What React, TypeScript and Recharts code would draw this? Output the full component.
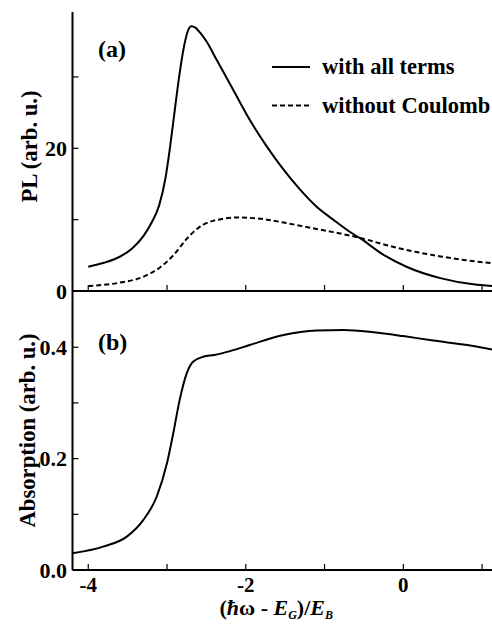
import React from 'react';
import { LineChart, Line, XAxis, YAxis, Legend, Label } from 'recharts';

const FONT = '"Liberation Serif", "Times New Roman", Times, serif';

// shared x axis
const xDomain: [number, number] = [-4.2, 1.126];
const xTicks = [-4, -3, -2, -1, 0, 1];
const xTickLabels = ['-4', '', '-2', '', '0', ''];

// panel (a): PL
const plDomain: [number, number] = [0, 39.1];
const plTicks = [0, 10, 20, 30];
const plTickLabels = ['0', '', '20', ''];

const plAllX = [-4.0, -3.8, -3.6, -3.45, -3.3, -3.2, -3.1, -3.02, -2.96, -2.9, -2.84, -2.78, -2.74, -2.69, -2.64, -2.58, -2.5, -2.37, -2.16, -1.95, -1.73, -1.52, -1.31, -1.1, -0.89, -0.68, -0.55, -0.25, 0.04, 0.47, 0.89, 1.13];
const plAllY = [3.4, 3.95, 4.8, 5.9, 7.7, 9.5, 12.0, 15.8, 20.3, 25.5, 30.5, 34.5, 36.3, 37.1, 36.9, 36.2, 35.0, 32.4, 28.2, 24.0, 20.2, 17.0, 14.2, 11.8, 10.0, 8.3, 7.4, 5.05, 3.4, 1.8, 0.93, 0.7];

const plNoCX = [-4.0, -3.6, -3.3, -3.09, -2.92, -2.75, -2.62, -2.5, -2.3, -2.1, -1.95, -1.73, -1.5, -1.31, -1.1, -0.89, -0.55, -0.17, 0.15, 0.47, 0.8, 1.13];
const plNoCY = [0.7, 1.17, 2.0, 3.3, 5.0, 7.3, 8.7, 9.5, 10.1, 10.3, 10.25, 10.0, 9.55, 9.15, 8.7, 8.25, 7.45, 6.3, 5.5, 4.85, 4.3, 3.9];

// panel (b): absorption
const absDomain: [number, number] = [0, 0.501];
const absTicks = [0, 0.1, 0.2, 0.3, 0.4];
const absTickLabels = ['0.0', '', '0.2', '', '0.4'];

const absX = [-4.2, -3.81, -3.51, -3.3, -3.13, -3.0, -2.92, -2.84, -2.75, -2.67, -2.54, -2.4, -2.2, -1.95, -1.52, -1.1, -0.76, -0.38, 0, 0.38, 0.81, 1.13];
const absY = [0.03, 0.042, 0.06, 0.09, 0.132, 0.192, 0.246, 0.305, 0.353, 0.374, 0.383, 0.386, 0.393, 0.404, 0.422, 0.43, 0.431, 0.427, 0.42, 0.412, 0.404, 0.396];

const zip = (xs: number[], ys: number[]) => xs.map((x, i) => ({ x, y: ys[i] }));
const plAllData = zip(plAllX, plAllY);
const plNoCData = zip(plNoCX, plNoCY);
const absData = zip(absX, absY);

const findLabel = (ticks: number[], labels: string[], v: number) => {
  const i = ticks.findIndex((t) => Math.abs(t - v) < 1e-9);
  return i >= 0 ? labels[i] : '';
};

const textStyle = { fontFamily: FONT, fontWeight: 700 as const, fill: '#000' };

const makeBottomTick = (showLabels: boolean) => (props: any) => {
  const { x, y, payload } = props;
  const label = showLabels ? findLabel(xTicks, xTickLabels, payload.value) : '';
  return (
    <g>
      <line x1={x} x2={x} y1={y} y2={y - 6} stroke="#000" strokeWidth={1.2} />
      {label ? (
        <text x={x} y={y + 22} textAnchor="middle" fontSize={21} fontFamily={FONT} style={textStyle}>
          {label}
        </text>
      ) : null}
    </g>
  );
};

const topTick = (props: any) => {
  const { x, y } = props;
  return <line x1={x} x2={x} y1={y} y2={y + 6} stroke="#000" strokeWidth={1.2} />;
};

const makeLeftTick = (ticks: number[], labels: string[]) => (props: any) => {
  const { x, y, payload } = props;
  const label = findLabel(ticks, labels, payload.value);
  return (
    <g>
      <line x1={x} x2={x + 6} y1={y} y2={y} stroke="#000" strokeWidth={1.2} />
      {label ? (
        <text x={x - 5.5} y={y + 7.5} textAnchor="end" fontSize={22} fontFamily={FONT} style={textStyle}>
          {label}
        </text>
      ) : null}
    </g>
  );
};

const makeYLabel = (text: string, baselineX: number, dyCenter: number) => (props: any) => {
  const vb = props.viewBox || { x: 0, y: 0, width: 0, height: 0 };
  const px = baselineX;
  const py = vb.y + vb.height / 2 + dyCenter;
  return (
    <text
      x={px}
      y={py}
      transform={`rotate(-90 ${px} ${py})`}
      textAnchor="middle"
      fontSize={22.7}
      fontFamily={FONT}
      style={textStyle}
    >
      {text}
    </text>
  );
};

const xLabel = (props: any) => {
  const vb = props.viewBox || { x: 0, y: 0, width: 0, height: 0 };
  const cx = vb.x + vb.width / 2 - 6;
  const by = vb.y + 45;
  return (
    <text x={cx} y={by} textAnchor="middle" fontSize={22} fontFamily={FONT} style={textStyle}>
      <tspan>(</tspan>
      <tspan fontStyle="italic">ħ</tspan>
      <tspan>ω - </tspan>
      <tspan fontStyle="italic">E</tspan>
      <tspan fontStyle="italic" fontSize={12} dy={4}>G</tspan>
      <tspan dy={-4}>)/</tspan>
      <tspan fontStyle="italic">E</tspan>
      <tspan fontStyle="italic" fontSize={12} dy={4}>B</tspan>
    </text>
  );
};

const renderLegend = (props: any) => {
  const payload = props.payload || [];
  return (
    <svg width={230} height={80} style={{ display: 'block', overflow: 'visible' }}>
      {payload.map((e: any, i: number) => {
        const ly = 10 + i * 38.5;
        const dash = e.payload?.strokeDasharray || (i === 1 ? '5 3' : undefined);
        return (
          <g key={i}>
            <line x1={0} x2={38} y1={ly} y2={ly} stroke="#000" strokeWidth={2} strokeDasharray={dash} />
            <text x={50} y={ly + 7.2} fontSize={22.5} fontFamily={FONT} style={textStyle}>
              {e.value}
            </text>
          </g>
        );
      })}
    </svg>
  );
};

const axisLineStyle = { stroke: '#000', strokeWidth: 2 };

export default function App() {
  return (
    <div style={{ position: 'absolute', left: 0, top: 0, width: 492, height: 627, background: '#fff', overflow: 'hidden' }}>
      <div style={{ position: 'absolute', left: 0, top: 0 }}>
        <LineChart width={492} height={320} margin={{ top: 12, right: 0, bottom: 0, left: 0 }}>
          <XAxis
            xAxisId="b"
            type="number"
            dataKey="x"
            domain={xDomain}
            allowDataOverflow
            ticks={xTicks}
            interval={0}
            height={29}
            tickSize={0}
            tickMargin={0}
            axisLine={axisLineStyle}
            tickLine={false}
            tick={makeBottomTick(false)}
          />
          <XAxis
            xAxisId="t"
            orientation="top"
            type="number"
            dataKey="x"
            domain={xDomain}
            allowDataOverflow
            ticks={xTicks}
            interval={0}
            height={0}
            tickSize={0}
            tickMargin={0}
            axisLine={axisLineStyle}
            tickLine={false}
            tick={topTick}
          />
          <YAxis
            yAxisId="l"
            type="number"
            domain={plDomain}
            allowDataOverflow
            ticks={plTicks}
            interval={0}
            width={72.5}
            tickSize={0}
            tickMargin={0}
            axisLine={axisLineStyle}
            tickLine={false}
            tick={makeLeftTick(plTicks, plTickLabels)}
          >
            <Label content={makeYLabel('PL (arb. u.)', 37, -5)} />
          </YAxis>
          <Line
            xAxisId="b"
            yAxisId="l"
            data={plAllData}
            dataKey="y"
            name="with all terms"
            type="monotone"
            stroke="#000"
            strokeWidth={2}
            dot={false}
            activeDot={false}
            isAnimationActive={false}
          />
          <Line
            xAxisId="b"
            yAxisId="l"
            data={plNoCData}
            dataKey="y"
            name="without Coulomb"
            type="monotone"
            stroke="#000"
            strokeWidth={2}
            strokeDasharray="5 3"
            dot={false}
            activeDot={false}
            isAnimationActive={false}
          />
          <Legend
            layout="horizontal"
            verticalAlign="middle"
            align="center"
            content={renderLegend}
            wrapperStyle={{ position: 'absolute', left: 271.7, top: 56.7, width: 230, height: 80 }}
          />
        </LineChart>
      </div>
      <div style={{ position: 'absolute', left: 0, top: 280 }}>
        <LineChart width={492} height={347} margin={{ top: 11, right: 0, bottom: 0, left: 0 }}>
          <XAxis
            xAxisId="b"
            type="number"
            dataKey="x"
            domain={xDomain}
            allowDataOverflow
            ticks={xTicks}
            interval={0}
            height={57}
            tickSize={0}
            tickMargin={0}
            axisLine={axisLineStyle}
            tickLine={false}
            tick={makeBottomTick(true)}
          >
            <Label content={xLabel} />
          </XAxis>
          <XAxis
            xAxisId="t"
            orientation="top"
            type="number"
            dataKey="x"
            domain={xDomain}
            allowDataOverflow
            ticks={xTicks}
            interval={0}
            height={0}
            tickSize={0}
            tickMargin={0}
            axisLine={axisLineStyle}
            tickLine={false}
            tick={topTick}
          />
          <YAxis
            yAxisId="l"
            type="number"
            domain={absDomain}
            allowDataOverflow
            ticks={absTicks}
            interval={0}
            width={72.5}
            tickSize={0}
            tickMargin={0}
            axisLine={axisLineStyle}
            tickLine={false}
            tick={makeLeftTick(absTicks, absTickLabels)}
          >
            <Label content={makeYLabel('Absorption (arb. u.)', 35, 0)} />
          </YAxis>
          <Line
            xAxisId="b"
            yAxisId="l"
            data={absData}
            dataKey="y"
            name="absorption"
            type="monotone"
            stroke="#000"
            strokeWidth={2}
            dot={false}
            activeDot={false}
            isAnimationActive={false}
          />
        </LineChart>
      </div>
      <svg width={492} height={627} style={{ position: 'absolute', left: 0, top: 0, pointerEvents: 'none' }}>
        <text x={98} y={56.5} fontSize={24} fontFamily={FONT} style={textStyle}>(a)</text>
        <text x={98} y={350} fontSize={24} fontFamily={FONT} style={textStyle}>(b)</text>
      </svg>
    </div>
  );
}
